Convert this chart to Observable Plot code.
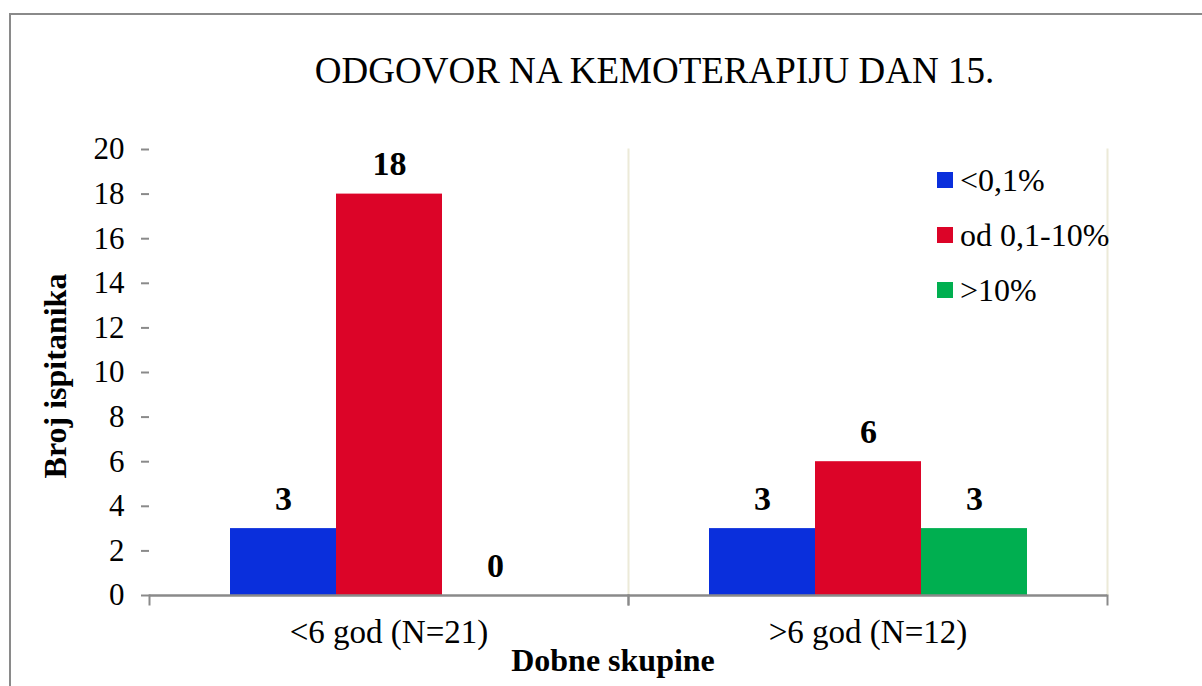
<!DOCTYPE html>
<html>
<head>
<meta charset="utf-8">
<script src="https://cdn.jsdelivr.net/npm/d3@7"></script>
<script src="https://cdn.jsdelivr.net/npm/@observablehq/plot@0.6"></script>
<style>
  html, body { margin: 0; padding: 0; background: #fff; overflow: hidden; }
  #wrap { position: relative; width: 1202px; height: 686px; font-family: "Liberation Serif", "Times New Roman", serif; color: #000; }
  #wrap svg, #wrap svg text { font-family: "Liberation Serif", "Times New Roman", serif !important; }
  #border { position: absolute; left: 9px; top: 13px; width: 1260px; height: 720px; border: 2px solid #8a8a8a; box-sizing: border-box; }
  #chart { position: absolute; left: 0; top: 0; }
  .t { position: absolute; white-space: nowrap; line-height: 1; }
  #title { left: 0; width: 1309px; top: 52px; text-align: center; font-size: 37px; }
  #ylab { left: 55px; top: 376px; font-size: 32px; font-weight: bold; transform: translate(-50%, -50%) rotate(-90deg); }
  #xlab { left: 613px; top: 644px; font-size: 32px; font-weight: bold; transform: translateX(-50%); }
  .leg { position: absolute; left: 937px; display: flex; align-items: center; font-size: 32px; line-height: 1; }
  .sw { width: 16px; height: 16px; margin-right: 7px; }
</style>
</head>
<body>
<div id="wrap">
  <div id="border"></div>
  <div id="chart"></div>
  <div id="title" class="t"></div>
  <div id="ylab" class="t"></div>
  <div id="xlab" class="t"></div>
  <div id="legend"></div>
</div>
<script>
const titleText = "ODGOVOR NA KEMOTERAPIJU DAN 15.";
const yLabel = "Broj ispitanika";
const xLabel = "Dobne skupine";
const groups = ["<6 god (N=21)", ">6 god (N=12)"];
const series = ["<0,1%", "od 0,1-10%", ">10%"];
const valuesUnder6 = [3, 18, 0];
const valuesOver6 = [3, 6, 3];
const colors = ["#0a2fdc", "#dc0428", "#00af50"];
const yTicks = [0, 2, 4, 6, 8, 10, 12, 14, 16, 18, 20];

const table = [];
[valuesUnder6, valuesOver6].forEach((vals, gi) => {
  vals.forEach((v, si) => table.push({group: groups[gi], series: series[si], value: v}));
});

const plotHeight = 686 - 149 - 91;
const serif = "'Liberation Serif', 'Times New Roman', serif";

const chart = Plot.plot({
  width: 1202,
  height: 686,
  marginLeft: 148,
  marginRight: 95,
  marginTop: 149,
  marginBottom: 91,
  style: {fontFamily: serif, color: "#000", background: "transparent"},
  fx: {domain: groups, padding: 0},
  x: {domain: series, paddingInner: 0, paddingOuter: 0.75, axis: null},
  y: {domain: [0, 20]},
  color: {domain: series, range: colors},
  marks: [
    Plot.frame({anchor: "right", stroke: "#ecead8", strokeWidth: 2}),
    Plot.barY(table, {fx: "group", x: "series", y: "value", fill: "series"}),
    Plot.ruleY([0], {stroke: "#8a8a8a", strokeWidth: 2.5}),
    Plot.frame({anchor: "left", stroke: "#8a8a8a", strokeWidth: 2, insetTop: plotHeight, insetBottom: -9}),
    Plot.frame({anchor: "right", stroke: "#8a8a8a", strokeWidth: 2, insetTop: plotHeight, insetBottom: -9}),
    Plot.axisY({ticks: yTicks, tickSize: 8, tickPadding: 17, stroke: "#8a8a8a", strokeWidth: 2, strokeOpacity: 1, line: true, label: null, fontSize: 31, fontFamily: serif, fill: "#000", tickFormat: d => String(d)}),
    Plot.axisFx({anchor: "bottom", tickSize: 0, tickPadding: 24, label: null, fontSize: 33, fontFamily: serif, fill: "#000"}),
    Plot.text(table, {fx: "group", x: "series", y: "value", text: d => String(d.value), lineAnchor: "bottom", dy: -19, fontSize: 34, fontFamily: serif, fontWeight: "bold", fill: "#000"})
  ]
});
document.getElementById("chart").appendChild(chart);

document.getElementById("title").textContent = titleText;
document.getElementById("ylab").textContent = yLabel;
document.getElementById("xlab").textContent = xLabel;
const legend = document.getElementById("legend");
series.forEach((s, i) => {
  const row = document.createElement("div");
  row.className = "leg";
  row.style.top = (164 + i * 55) + "px";
  const sw = document.createElement("div");
  sw.className = "sw";
  sw.style.background = colors[i];
  const lab = document.createElement("span");
  lab.textContent = s;
  row.appendChild(sw);
  row.appendChild(lab);
  legend.appendChild(row);
});
</script>
</body>
</html>
